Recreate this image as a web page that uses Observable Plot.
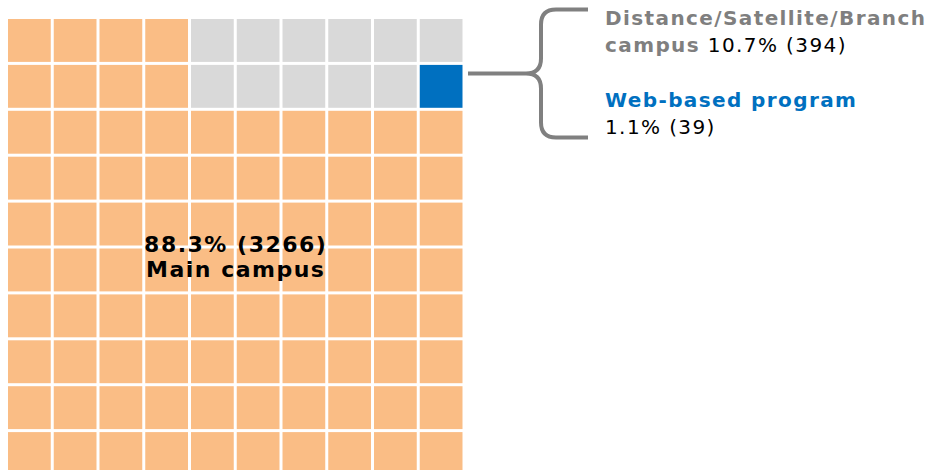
<!DOCTYPE html>
<html>
<head>
<meta charset="utf-8">
<script src="https://cdn.jsdelivr.net/npm/d3@7"></script>
<script src="https://cdn.jsdelivr.net/npm/@observablehq/plot@0.6"></script>
<style>
  html, body { margin: 0; padding: 0; background: #fff; overflow: hidden; }
</style>
</head>
<body>
<div id="chart"></div>
<script>
// ---- data ----
const categories = ["Main campus", "Distance/Satellite/Branch campus", "Web-based program"];
const percents = [88.3, 10.7, 1.1];
const counts = [3266, 394, 39];
const squares = [88, 11, 1];            // squares of 100 per category
const fills = ["#fabd85", "#d9d9d9", "#0070c0"];
const labelColors = ["#000000", "#7f7f7f", "#0070c0"];
const gridRows = 10;
const gridCols = 10;
const otherRows = 2;                      // the non-main block sits top-right

const FONT = "Verdana, 'DejaVu Sans', sans-serif";

// ---- build waffle cells ----
const otherCount = squares[1] + squares[2];
const otherCols = otherCount / otherRows;
const cells = [];
for (let r = 0; r < gridRows; r++) {
  for (let c = 0; c < gridCols; c++) {
    let cat = 0;
    if (r < otherRows && c >= gridCols - otherCols) {
      const k = r * otherCols + (c - (gridCols - otherCols));
      cat = k >= otherCount - squares[2] ? 2 : 1;
    }
    cells.push({row: r, col: c, color: fills[cat]});
  }
}

const fmt = (i) => `${percents[i]}% (${counts[i]})`;
const mainLabel = `${fmt(0)}\n${categories[0]}`;

// annotation for the two small categories (brace + text)
function annotation(index, {x, y}) {
  const g = d3.create("svg:g");
  const left = x(gridCols);
  const stemY = y(1) + 10;
  const top = stemY - 64, bottom = stemY + 64;
  const xs = left + 4, xc = left + 62, xv = left + 77, xe = left + 124, r = 15;
  const p = d3.path();
  p.moveTo(xe, top); p.lineTo(xv + r, top);
  p.quadraticCurveTo(xv, top, xv, top + r);
  p.lineTo(xv, stemY - r);
  p.quadraticCurveTo(xv, stemY, xc, stemY);
  p.lineTo(xs, stemY);
  p.moveTo(xc, stemY);
  p.quadraticCurveTo(xv, stemY, xv, stemY + r);
  p.lineTo(xv, bottom - r);
  p.quadraticCurveTo(xv, bottom, xv + r, bottom);
  p.lineTo(xe, bottom);
  g.append("path").attr("d", p.toString()).attr("fill", "none")
    .attr("stroke", "#808080").attr("stroke-width", 4);

  const tx = left + 141;
  const t = g.append("g").attr("class", "annot").attr("font-family", FONT).attr("font-size", 20)
    .attr("text-anchor", "start").attr("letter-spacing", "1.4px");
  // Distance/Satellite/Branch campus: wraps before the last word
  const words = categories[1].split(" ");
  const last = words.pop();
  t.append("text").attr("x", tx).attr("y", top + 16)
    .attr("font-weight", "bold").attr("fill", labelColors[1]).text(words.join(" "));
  const l2 = t.append("text").attr("x", tx).attr("y", top + 42.5);
  l2.append("tspan").attr("font-weight", "bold").attr("fill", labelColors[1]).text(last);
  l2.append("tspan").attr("fill", "#000").text(" " + fmt(1));
  // Web-based program
  t.append("text").attr("x", tx).attr("y", top + 97.7)
    .attr("font-weight", "bold").attr("fill", labelColors[2]).text(categories[2]);
  t.append("text").attr("x", tx).attr("y", top + 124.3)
    .attr("fill", "#000").text(fmt(2));
  return g.node();
}

const chart = Plot.plot({
  width: 935,
  height: 470,
  margin: 0,
  x: {domain: [0, gridCols], range: [6.5, 464], axis: null},
  y: {domain: [0, gridRows], range: [17.5, 476.5], axis: null},
  color: {type: "identity"},
  style: {fontFamily: FONT, background: "#fff"},
  marks: [
    Plot.rect(cells, {x1: "col", x2: d => d.col + 1, y1: "row", y2: d => d.row + 1, fill: "color", inset: 1.5}),
    Plot.text([mainLabel], {x: gridCols / 2, y: gridRows / 2, text: d => d, fontSize: 22, fontWeight: "bold",
      lineHeight: 1.16, dy: 9, fill: labelColors[0]}),
    annotation
  ]
});
d3.select(chart).selectAll("text").filter(function() { return !this.closest(".annot"); })
  .attr("letter-spacing", "1.5px");
document.getElementById("chart").appendChild(chart);
</script>
</body>
</html>
